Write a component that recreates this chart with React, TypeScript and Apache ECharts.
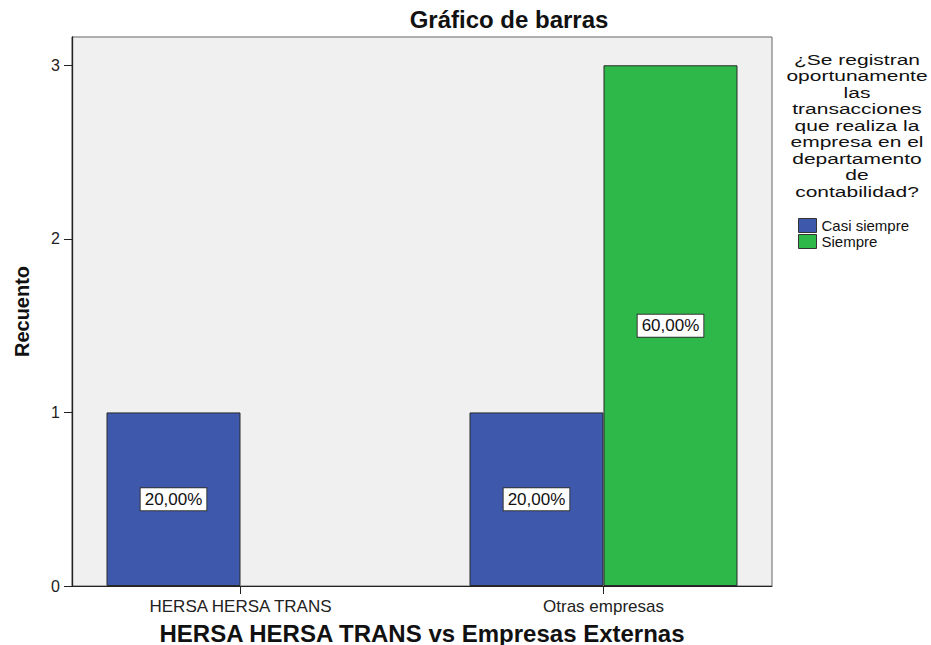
import React, { useEffect, useRef } from "react";
import * as echarts from "echarts";

const categories = ["HERSA HERSA TRANS", "Otras empresas"];
const seriesNames = ["Casi siempre", "Siempre"];
const casiSiempre = [1, 1];
const siempre: (number | null)[] = [null, 3];
const yTickValues = [0, 1, 2, 3];
const chartTitle = "Gráfico de barras";
const xAxisTitle = "HERSA HERSA TRANS vs Empresas Externas";
const yAxisTitle = "Recuento";
const legendTitleLines = [
  "¿Se registran",
  "oportunamente",
  "las",
  "transacciones",
  "que realiza la",
  "empresa en el",
  "departamento",
  "de",
  "contabilidad?",
];

const FONT = '"Liberation Sans", Arial, Helvetica, sans-serif';

export default function App() {
  const ref = useRef<HTMLDivElement>(null);
  useEffect(() => {
    if (!ref.current) return;
    const chart = echarts.init(ref.current, null, { renderer: "svg" });
    const total = [...casiSiempre, ...siempre].reduce<number>((a, b) => a + (b ?? 0), 0);
    const pct = (v: number) => ((v / total) * 100).toFixed(2).replace(".", ",") + "%";
    const toPairs = (arr: (number | null)[]) =>
      arr.map((v, i) => (v == null ? null : [i, v])).filter((d) => d != null);
    const label = {
      show: true,
      position: "inside",
      formatter: (p: any) => pct(p.value[1]),
      fontFamily: FONT,
      fontSize: 17,
      color: "#111",
      backgroundColor: "#ffffff",
      borderColor: "#333",
      borderWidth: 1,
      padding: [3, 4, 2, 4],
    };
    chart.setOption({
      animation: false,
      backgroundColor: "#ffffff",
      textStyle: { fontFamily: FONT },
      grid: {
        left: 72,
        right: 159,
        top: 37,
        bottom: 59,
        outerBoundsMode: "none",
        containLabel: false,
        show: true,
        backgroundColor: "#f0f0f0",
        borderColor: "#666",
        borderWidth: 1,
      },
      xAxis: {
        type: "value",
        min: -0.4642,
        max: 1.4642,
        name: xAxisTitle,
        nameLocation: "middle",
        nameGap: 35,
        nameTextStyle: { fontFamily: FONT, fontWeight: "bold", fontSize: 24, color: "#111" },
        axisLine: { show: true, onZero: false, lineStyle: { color: "#222", width: 1 } },
        axisTick: { show: true, length: 8, customValues: [0, 1], lineStyle: { color: "#222" } },
        axisLabel: {
          customValues: [0, 1],
          formatter: (v: number) => categories[Math.round(v)] ?? "",
          fontFamily: FONT,
          fontSize: 17,
          color: "#222",
          margin: 12,
        },
        splitLine: { show: false },
      },
      yAxis: {
        type: "value",
        min: 0,
        max: 3.163,
        name: yAxisTitle,
        nameLocation: "middle",
        nameGap: 40,
        nameTextStyle: { fontFamily: FONT, fontWeight: "bold", fontSize: 20, color: "#111" },
        axisLine: { show: true, onZero: false, lineStyle: { color: "#222", width: 1.3 } },
        axisTick: { show: true, length: 8, customValues: yTickValues, lineStyle: { color: "#222" } },
        axisLabel: {
          customValues: yTickValues,
          fontFamily: FONT,
          fontSize: 16,
          color: "#222",
          margin: 12,
        },
        splitLine: { show: false },
      },
      legend: {
        data: seriesNames,
        orient: "vertical",
        left: 793,
        top: 213,
        itemWidth: 18,
        itemHeight: 14,
        itemGap: 1,
        icon: "rect",
        textStyle: { fontFamily: FONT, fontSize: 15, color: "#111" },
        itemStyle: { borderColor: "#333", borderWidth: 1 },
      },
      graphic: [
        {
          type: "text",
          x: 509,
          y: 19,
          style: {
            text: chartTitle,
            fontFamily: FONT,
            fontSize: 24,
            fontWeight: "bold",
            fill: "#111",
            align: "center",
            verticalAlign: "middle",
          },
        },
        {
          type: "text",
          x: 857,
          y: 51,
          scaleX: 1.4,
          style: {
            text: legendTitleLines.join("\n"),
            fontFamily: FONT,
            fontSize: 15,
            lineHeight: 16.5,
            fill: "#111",
            align: "center",
            verticalAlign: "top",
          },
        },
      ],
      series: [
        {
          name: seriesNames[0],
          type: "bar",
          barWidth: 134,
          barGap: "0%",
          data: toPairs(casiSiempre),
          itemStyle: { color: "#3e58ac", borderColor: "#2a2a2a", borderWidth: 1 },
          label,
        },
        {
          name: seriesNames[1],
          type: "bar",
          barWidth: 134,
          barGap: "0%",
          data: toPairs(siempre),
          itemStyle: { color: "#2eb84a", borderColor: "#2a2a2a", borderWidth: 1 },
          label,
        },
      ],
    });
    return () => chart.dispose();
  }, []);
  return (
    <div
      ref={ref}
      style={{ position: "fixed", left: 0, top: 0, width: 931, height: 645 }}
    />
  );
}
